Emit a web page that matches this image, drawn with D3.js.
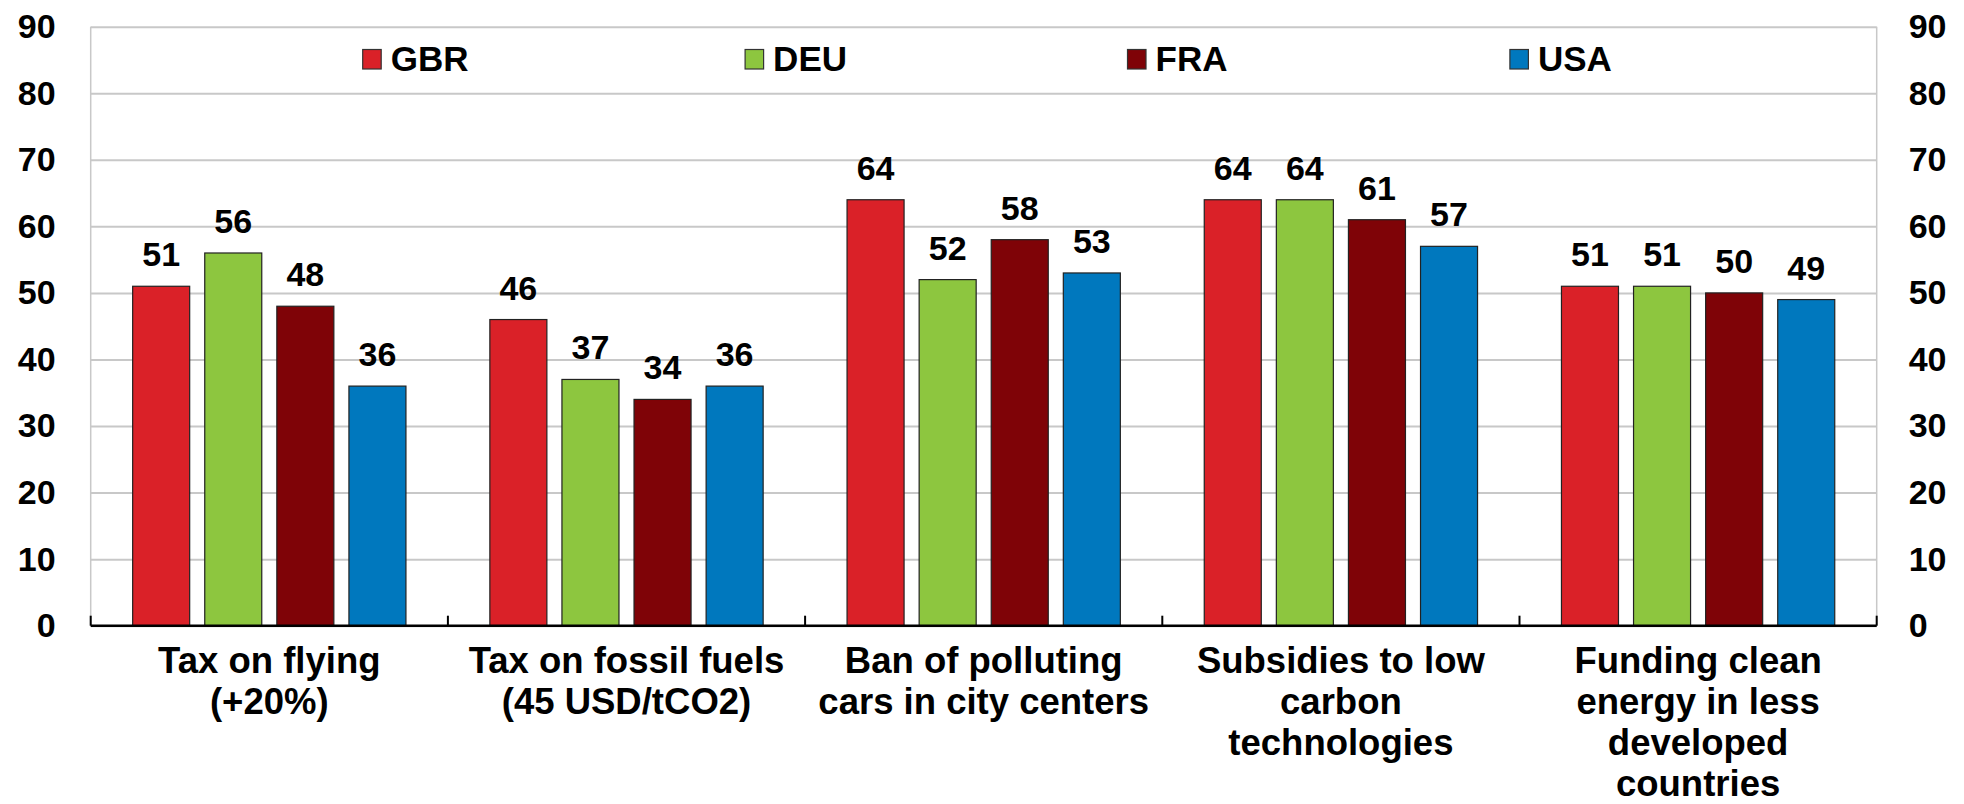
<!DOCTYPE html>
<html>
<head>
<meta charset="utf-8">
<script src="https://cdn.jsdelivr.net/npm/d3@7"></script>
<style>
  body { margin: 0; background: #fff; }
  text { font-family: "Liberation Sans", Arial, sans-serif; font-weight: bold; fill: #000; }
</style>
</head>
<body>
<div id="chart"></div>
<script>
// chart values
var categories = [
	["Tax on flying", "(+20%)"],
	["Tax on fossil fuels", "(45 USD/tCO2)"],
	["Ban of polluting", "cars in city centers"],
	["Subsidies to low", "carbon", "technologies"],
	["Funding clean", "energy in less", "developed", "countries"]
];
var countries = ["GBR", "DEU", "FRA", "USA"];
var GBR = [51, 46, 64, 64, 51];
var DEU = [56, 37, 52, 64, 51];
var FRA = [48, 34, 58, 61, 50];
var USA = [36, 36, 53, 57, 49];
var yTicks = [0, 10, 20, 30, 40, 50, 60, 70, 80, 90];
var colors = ["#da2128", "#8dc63f", "#7f0307", "#0078be"];

var seriesValues = [GBR, DEU, FRA, USA];

var totalW = 1964, totalH = 804;
var margin = {top: 26.7, right: 87.3, bottom: 178.3, left: 90.7};
var width = totalW - margin.left - margin.right;
var height = totalH - margin.top - margin.bottom;

var svg = d3.select("#chart")
	.append("svg")
	.attr("width", totalW)
	.attr("height", totalH);

var g = svg.append("g")
	.attr("transform", "translate(" + margin.left + "," + margin.top + ")");

var catKeys = categories.map(function(d, i) { return i; });

var x0 = d3.scaleBand()
	.domain(catKeys)
	.range([0, width])
	.padding(0);

var x1 = d3.scaleBand()
	.domain(countries)
	.range([0, x0.bandwidth()])
	.paddingInner(0.209)
	.paddingOuter(0.582);

var y = d3.scaleLinear()
	.domain([0, 90])
	.range([height, 0]);

// gridlines
g.append("g")
	.attr("class", "grid")
	.call(d3.axisLeft(y).tickValues(yTicks).tickSize(-width).tickFormat(""))
	.call(function(s) {
		s.select(".domain").remove();
		s.selectAll("line").attr("stroke", "#c8c8c8").attr("stroke-width", 2);
	});

// plot frame sides
g.append("line")
	.attr("x1", 0).attr("x2", 0)
	.attr("y1", y(90)).attr("y2", y(0))
	.attr("stroke", "#c8c8c8").attr("stroke-width", 1.5);
g.append("line")
	.attr("x1", width).attr("x2", width)
	.attr("y1", y(90)).attr("y2", y(0))
	.attr("stroke", "#c8c8c8").attr("stroke-width", 1.5);

// left and right tick labels
g.append("g")
	.call(d3.axisLeft(y).tickValues(yTicks).tickSize(0).tickPadding(35))
	.call(function(s) {
		s.select(".domain").remove();
		s.selectAll("text").style("font-size", "34px").attr("fill", "#000");
	});
g.append("g")
	.attr("transform", "translate(" + width + ",0)")
	.call(d3.axisRight(y).tickValues(yTicks).tickSize(0).tickPadding(32))
	.call(function(s) {
		s.select(".domain").remove();
		s.selectAll("text").style("font-size", "34px").attr("fill", "#000");
	});

// bars
var groups = g.selectAll(".group")
	.data(catKeys)
	.enter().append("g")
	.attr("class", "group")
	.attr("transform", function(d) { return "translate(" + x0(d) + ",0)"; });

groups.selectAll("rect")
	.data(function(ci) {
		return countries.map(function(c, si) { return {key: c, si: si, value: seriesValues[si][ci]}; });
	})
	.enter().append("rect")
	.attr("x", function(d) { return x1(d.key); })
	.attr("y", function(d) { return y(d.value); })
	.attr("width", x1.bandwidth())
	.attr("height", function(d) { return y(0) - y(d.value); })
	.attr("fill", function(d) { return colors[d.si]; })
	.attr("stroke", "#222")
	.attr("stroke-width", 1.2);

// value labels
groups.selectAll(".val")
	.data(function(ci) {
		return countries.map(function(c, si) { return {key: c, value: seriesValues[si][ci]}; });
	})
	.enter().append("text")
	.attr("class", "val")
	.attr("x", function(d) { return x1(d.key) + x1.bandwidth() / 2; })
	.attr("y", function(d) { return y(d.value) - 20; })
	.attr("text-anchor", "middle")
	.style("font-size", "34px")
	.text(function(d) { return d.value; });

// baseline and category boundary ticks
g.append("line")
	.attr("x1", 0).attr("x2", width)
	.attr("y1", y(0)).attr("y2", y(0))
	.attr("stroke", "#000").attr("stroke-width", 2.5);

var bounds = catKeys.map(function(d) { return x0(d); }).concat([x0(catKeys[catKeys.length - 1]) + x0.bandwidth()]);
g.selectAll(".btick")
	.data(bounds)
	.enter().append("line")
	.attr("class", "btick")
	.attr("x1", function(d) { return d; }).attr("x2", function(d) { return d; })
	.attr("y1", y(0)).attr("y2", y(0) - 10)
	.attr("stroke", "#000").attr("stroke-width", 2);

// category labels, several lines each
var xl = g.selectAll(".xlab")
	.data(catKeys)
	.enter().append("text")
	.attr("class", "xlab")
	.attr("text-anchor", "middle")
	.style("font-size", "36.5px")
	.attr("transform", function(d) { return "translate(" + (x0(d) + x0.bandwidth() / 2) + "," + (y(0) + 47) + ")"; });

xl.selectAll("tspan")
	.data(function(d) { return categories[d]; })
	.enter().append("tspan")
	.attr("x", 0)
	.attr("y", function(d, i) { return i * 41; })
	.text(function(d) { return d; });

// legend
var legend = svg.append("g")
	.attr("class", "legend");

var item = legend.selectAll(".item")
	.data(countries)
	.enter().append("g")
	.attr("class", "item")
	.attr("transform", function(d, i) { return "translate(" + (362.7 + i * 382.4) + ",49.5)"; });

item.append("rect")
	.attr("width", 18.5)
	.attr("height", 19.5)
	.attr("fill", function(d, i) { return colors[i]; })
	.attr("stroke", "#333")
	.attr("stroke-width", 1.2);

item.append("text")
	.attr("x", 28)
	.attr("y", 21)
	.style("font-size", "35px")
	.text(function(d) { return d; });
</script>
</body>
</html>
